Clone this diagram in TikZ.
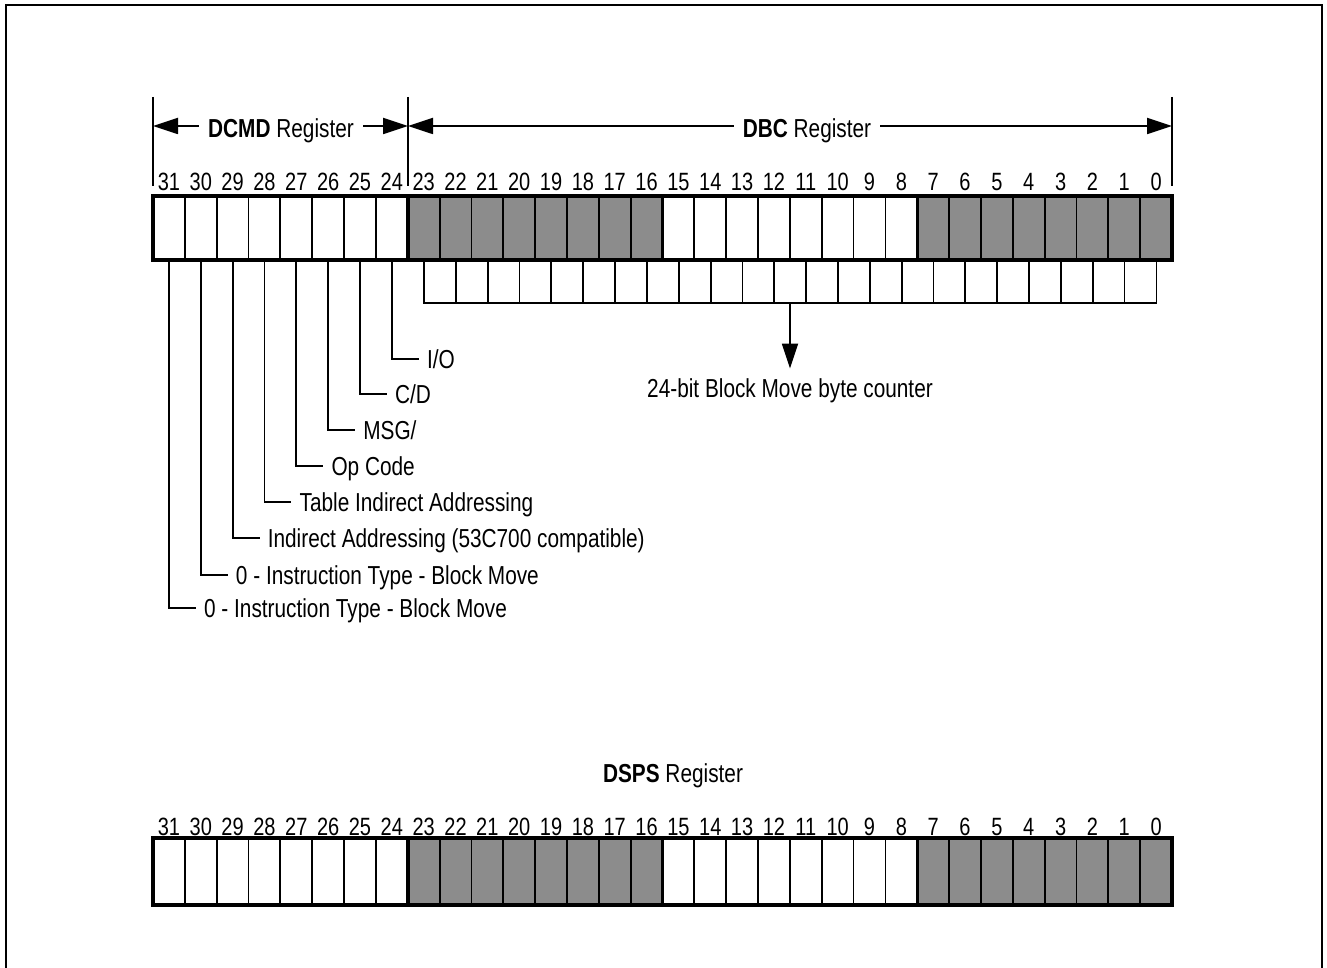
\documentclass[tikz,border=0pt]{standalone}
\usepackage{fontspec}
\setmainfont{Liberation Sans}[FakeStretch=0.8]
\usetikzlibrary{arrows.meta}
\definecolor{shade}{gray}{0.55}
\begin{document}
\begin{tikzpicture}[x=1pt,y=-1pt,
  txt/.style={font=\fontsize{26}{30}\selectfont,inner sep=0pt,text height=18.5pt,text depth=0pt},
  num/.style={font=\fontsize{25}{30}\selectfont,inner sep=0pt,text height=18pt,text depth=0pt},
  cell/.style={draw,line width=1.8pt,minimum width=31.84pt,minimum height=64pt,inner sep=0pt,outer sep=0pt},
  dcell/.style={cell,minimum height=67pt},
  ccell/.style={draw,fill=white,line width=1.8pt,minimum width=31.84pt,minimum height=43pt,inner sep=0pt,outer sep=0pt},
  frame/.style={line width=4pt},
  group/.style={line width=3.5pt},
  lead/.style={line width=1.8pt},
  marker/.style={line width=1.5pt},
  arr/.style={-{Triangle[length=25pt,width=16pt]},line width=1.8pt}]
\useasboundingbox (0,0) rectangle (1327,968);
% page frame
\draw[line width=1.3pt] (6,968) -- (6,5) -- (1322,5) -- (1322,968);

% ---------- top register ----------
% byte counter row
\foreach \j in {0,...,22}{
  \pgfmathsetmacro\xc{424+(\j+0.5)*31.84375}
  \node[ccell] (c\j) at (\xc,281.5) {};
}
\foreach \i in {0,...,31}{
  \pgfmathtruncatemacro\b{31-\i}
  \pgfmathsetmacro\xc{153+(\i+0.5)*31.84375}
  \ifnum\i<8 \def\fc{white}\else\ifnum\i<16 \def\fc{shade}\else\ifnum\i<24 \def\fc{white}\else\def\fc{shade}\fi\fi\fi
  \node[cell,fill=\fc] (t\b) at (\xc,228) {};
  \node[num] (tn\b) at (\xc,182) {\b};
}
\draw[frame] (t31.north west) rectangle (t0.south east);
\foreach \b in {24,16,8}{
  \draw[group] (t\b.north east) -- (t\b.south east);
}

% markers and register arrows
\coordinate (mLt) at (153,97);  \coordinate (mLb) at (153,186);
\coordinate (mMt) at (408,97);  \coordinate (mMb) at (408,186);
\coordinate (mRt) at (1172,97); \coordinate (mRb) at (1172,186);
\draw[marker] (mLt) -- (mLb);
\draw[marker] (mMt) -- (mMb);
\draw[marker] (mRt) -- (mRb);
\coordinate (aL) at (153,126);
\coordinate (aM) at (408,126);
\coordinate (aR) at (1172,126);
\node[txt] (dcmd) at (281,128) {\textbf{DCMD} Register};
\node[txt] (dbc) at (807,128) {\textbf{DBC} Register};
\draw[arr] ([xshift=-9pt]dcmd.west |- aL) -- (aL);
\draw[arr] ([xshift=9pt]dcmd.east |- aM) -- (aM);
\draw[arr] ([xshift=-9pt]dbc.west |- aM) -- (aM);
\draw[arr] ([xshift=9pt]dbc.east |- aR) -- (aR);

% byte counter arrow
\coordinate (cb) at (790,303);
\node[txt] (cntl) at (790,388) {24-bit Block Move byte counter};
\draw[arr] (cb) -- ([yshift=10pt]cntl.north);

% DCMD bit labels
\foreach \b/\y/\t in {24/359/{I/O},25/394/{C/D},26/430/{MSG/},27/466/{Op Code},
  28/502/{Table Indirect Addressing},29/538/{Indirect Addressing (53C700 compatible)},
  30/575/{0 - Instruction Type - Block Move},31/608/{0 - Instruction Type - Block Move}}{
  \path (t\b.south) ++(35,0) coordinate (p\b);
  \node[txt,anchor=west] (l\b) at (p\b |- 0,\y) {\t};
  \draw[lead] (t\b.south) |- ([xshift=-8pt]l\b.west);
}

% ---------- DSPS register ----------
\node[txt] (dsps) at (673,773) {\textbf{DSPS} Register};
\foreach \i in {0,...,31}{
  \pgfmathtruncatemacro\b{31-\i}
  \pgfmathsetmacro\xc{153+(\i+0.5)*31.84375}
  \ifnum\i<8 \def\fc{white}\else\ifnum\i<16 \def\fc{shade}\else\ifnum\i<24 \def\fc{white}\else\def\fc{shade}\fi\fi\fi
  \node[dcell,fill=\fc] (s\b) at (\xc,871.5) {};
  \node[num] (sn\b) at (\xc,826) {\b};
}
\draw[frame] (s31.north west) rectangle (s0.south east);
\foreach \b in {24,16,8}{
  \draw[group] (s\b.north east) -- (s\b.south east);
}
\end{tikzpicture}
\end{document}
